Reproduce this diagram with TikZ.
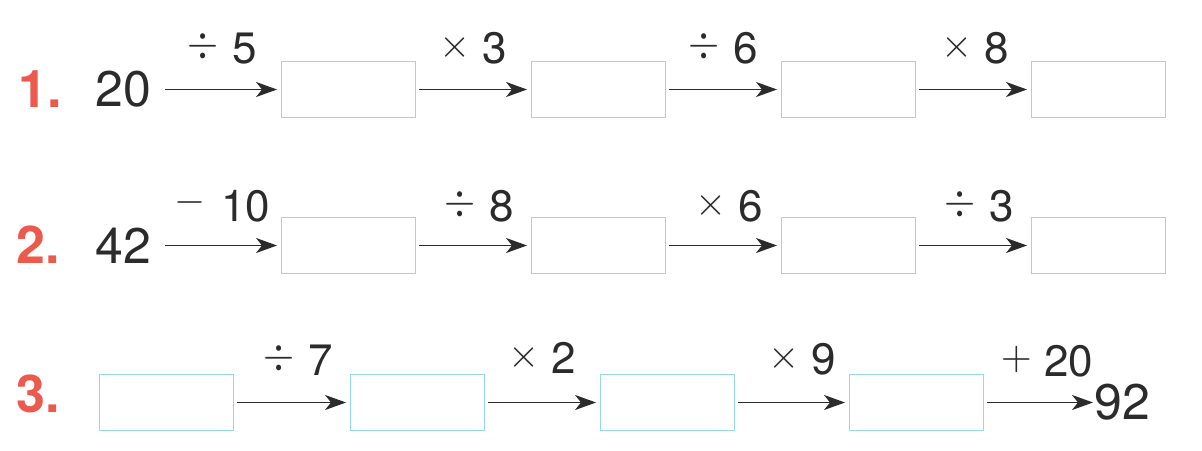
\documentclass[tikz,border=0pt]{standalone}
\usepackage{fontspec}
\usepackage{graphicx}
\setmainfont{TeX Gyre Heros}
\usetikzlibrary{arrows.meta}
\definecolor{txt}{HTML}{2B2B2B}
\definecolor{numred}{HTML}{EC5A4E}
\definecolor{boxcyan}{HTML}{96DAE6}
% operator symbol: #1 math symbol, #2 x-scale, #3 y-scale, #4 raise
\newcommand{\opsym}[4]{\raisebox{#4}{\scalebox{#2}[#3]{\fontsize{10}{12}\selectfont$#1$}}}
\newcommand{\opdiv}{\opsym{\div}{4}{4.5}{6pt}\hspace{14pt}}
\newcommand{\optimes}{\opsym{\times}{4}{4}{6pt}\hspace{12pt}}
\newcommand{\opminus}{\opsym{-}{4}{4}{9pt}\hspace{16pt}}
\newcommand{\opplus}{\opsym{+}{4}{4}{7.5pt}\hspace{12pt}}
\tikzset{
  ansbox/.style={draw=boxcyan, line width=0.9pt, minimum width=134pt, minimum height=56pt, inner sep=0pt},
  bignum/.style={text=txt, font=\fontsize{50}{50}\selectfont, inner sep=0pt},
  rednum/.style={text=numred, font=\fontsize{52}{52}\selectfont\bfseries, inner sep=0pt, anchor=base west},
  oplabel/.style={text=txt, font=\fontsize{44}{44}\selectfont, inner sep=0pt, anchor=base},
  arr/.style={draw=txt, line width=1.6pt, -{Stealth[length=21pt,width=15pt,inset=6pt]}, shorten <=3pt, shorten >=4pt}
}
\begin{document}
\begin{tikzpicture}[x=1pt,y=-1pt]
\useasboundingbox (0,0) rectangle (1202,450);
% Row 1
\node[rednum] (r1) at (18,107) {1.};
\node[bignum] (n20) at (123,89.5) {20};
\node[ansbox] (a1) at (348.5,89.5) {};
\node[ansbox] (a2) at (598.5,89.5) {};
\node[ansbox] (a3) at (848.5,89.5) {};
\node[ansbox] (a4) at (1098.5,89.5) {};
\draw[arr, shorten <=14pt] (n20.east) -- (a1.west) node[oplabel, midway, yshift=26pt, xshift=6pt] (l11) {\opdiv 5};
\draw[arr] (a1.east) -- (a2.west) node[oplabel, midway, yshift=26pt] (l12) {\optimes 3};
\draw[arr] (a2.east) -- (a3.west) node[oplabel, midway, yshift=26pt] (l13) {\opdiv 6};
\draw[arr] (a3.east) -- (a4.west) node[oplabel, midway, yshift=26pt, xshift=2pt] (l14) {\optimes 8};
% Row 2
\node[rednum] (r2) at (16,263) {2.};
\node[bignum] (n42) at (123,245.5) {42};
\node[ansbox] (b1) at (348.5,245.5) {};
\node[ansbox] (b2) at (598.5,245.5) {};
\node[ansbox] (b3) at (848.5,245.5) {};
\node[ansbox] (b4) at (1098.5,245.5) {};
\draw[arr, shorten <=14pt] (n42.east) -- (b1.west) node[oplabel, midway, yshift=24pt, xshift=6pt] (l21) {\opminus 10};
\draw[arr] (b1.east) -- (b2.west) node[oplabel, midway, yshift=24pt, xshift=6pt] (l22) {\opdiv 8};
\draw[arr] (b2.east) -- (b3.west) node[oplabel, midway, yshift=24pt, xshift=6pt] (l23) {\optimes 6};
\draw[arr] (b3.east) -- (b4.west) node[oplabel, midway, yshift=24pt, xshift=6pt] (l24) {\opdiv 3};
% Row 3
\node[rednum] (r3) at (16,412) {3.};
\node[ansbox] (c1) at (166.5,402.5) {};
\node[ansbox] (c2) at (417.5,402.5) {};
\node[ansbox] (c3) at (667.5,402.5) {};
\node[ansbox] (c4) at (916.5,402.5) {};
\node[bignum, anchor=west] (n92) at (1094,402.5) {92};
\draw[arr] (c1.east) -- (c2.west) node[oplabel, midway, yshift=27pt, xshift=6pt] (l31) {\opdiv 7};
\draw[arr] (c2.east) -- (c3.west) node[oplabel, midway, yshift=29pt] (l32) {\optimes 2};
\draw[arr] (c3.east) -- (c4.west) node[oplabel, midway, yshift=28pt, xshift=10pt] (l33) {\optimes 9};
\draw[arr, shorten >=1pt] (c4.east) -- (n92.west) node[oplabel, midway, yshift=26pt, xshift=8pt] (l34) {\opplus 20};
\end{tikzpicture}
\end{document}
